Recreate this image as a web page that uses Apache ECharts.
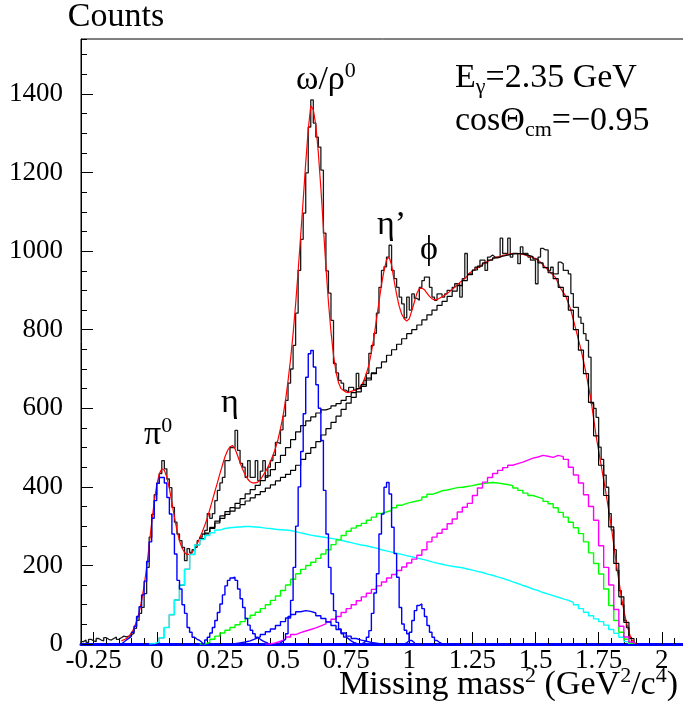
<!DOCTYPE html>
<html>
<head>
<meta charset="utf-8">
<script src="https://cdn.jsdelivr.net/npm/echarts@6/dist/echarts.min.js"></script>
<style>
  html, body { margin: 0; padding: 0; background: #fff; }
  #chart { width: 683px; height: 708px; }
</style>
</head>
<body>
<div id="chart"></div>
<script>
// ---- data (counts per bin) ----
const fineW = 0.01;
const coarseW = 0.02;

const xTickLabels = [-0.25, 0, 0.25, 0.5, 0.75, 1, 1.25, 1.5, 1.75, 2];
const yTickLabels = [0, 200, 400, 600, 800, 1000, 1200, 1400];

// measured spectrum, 0.01 bins from -0.30
const dataStart = -0.30;
const dataCounts = [
  6, 10, 4, 12, 8, 6, 14, 10, 8, 16, 12, 10, 14, 18, 12, 16, 20, 18,
  20, 24, 27, 40, 60, 78, 93, 128, 195, 272, 330, 380,
  409, 434, 467, 446, 420, 398, 348, 310, 280, 263,
  246, 212, 243, 233, 240, 246, 263, 272, 280, 289,
  332, 320, 332, 365, 391, 410, 424, 467, 467, 500,
  500, 544, 493, 460, 450, 424, 467, 424, 424, 467,
  416, 440, 467, 424, 450, 467, 480, 513, 510, 545,
  580, 620, 664, 700, 760, 842, 951, 1030, 1097, 1199,
  1316, 1385, 1326, 1290, 1265, 1206, 1046, 950, 893, 824,
  714, 690, 671, 664, 646, 641, 653, 653, 646, 689,
  653, 660, 671, 689, 740, 760, 791, 842, 908, 951,
  960, 985, 1015, 951, 930, 908, 883, 866, 830, 883,
  850, 891, 880, 875, 908, 925, 934, 934, 908, 883,
  875, 891, 891, 883, 891, 900, 900, 908, 917, 917,
  883, 930, 994, 942, 942, 951, 959, 959, 977, 977,
  951, 985, 990, 985, 985, 985, 1033, 994, 994, 1033,
  985, 994, 994, 968, 1011, 994, 994, 985, 977, 977,
  917, 985, 1007, 1003, 1003, 951, 959, 942, 942, 972,
  968, 951, 951, 942, 892, 857, 857, 832, 816, 790,
  773, 730, 612, 600, 577, 501, 470, 430, 399, 332,
  290, 240, 187, 136, 100, 60, 42, 17, 4, 0
];

// total fit curve, sampled every 0.01 from -0.14
const fitStart = -0.14;
const fitCurve = [
  8, 11, 14, 20, 28, 40, 58, 80, 110, 148, 195, 252, 310, 362,
  405, 433, 446, 442, 425, 396, 360, 323, 290, 263,
  245, 233, 228, 228, 233, 242, 255, 269, 285, 302,
  320, 342, 365, 388, 410, 433, 455, 476, 492, 502,
  505, 497, 480, 462, 445, 431, 420, 413, 410, 410,
  412, 418, 428, 438, 450, 464, 480, 498, 520, 548,
  580, 620, 670, 725, 790, 865, 950, 1040, 1130, 1225,
  1310, 1370, 1360, 1320, 1250, 1160, 1060, 960, 870, 795,
  735, 692, 665, 650, 645, 641, 640, 643, 645, 647,
  650, 658, 670, 688, 710, 742, 780, 825, 870, 915,
  950, 978, 985, 965, 925, 890, 860, 840, 828, 822,
  828, 848, 870, 892, 905, 906, 902, 893, 885, 879,
  876, 877, 880, 884, 888, 892, 897, 902, 908, 914,
  920, 925, 930, 937, 945, 949, 953, 958, 962, 966,
  970, 974, 977, 980, 983, 985, 987, 989, 990, 992,
  993, 994, 994, 994, 993, 992, 990, 988, 986, 984,
  981, 977, 972, 965, 958, 952, 945, 939, 932, 918,
  905, 895, 885, 868, 850, 825, 800, 775, 750, 720,
  690, 655, 620, 575, 530, 492, 455, 418, 380, 340,
  300, 252, 205, 162, 120, 85, 55, 30, 12, 4, 0
];

// background sum, 0.02 bins centred on 0.00 ... 1.88
const bgSumStart = -0.01;
const bgSum = [
  4, 16, 42, 75, 112, 150, 190, 228, 252, 268,
  280, 294, 308, 320, 330, 338, 346, 355, 364, 372,
  380, 388, 397, 405, 415, 424, 432, 442, 455, 470,
  485, 500, 515, 532, 548, 564, 580, 597, 613, 628,
  642, 656, 672, 688, 703, 718, 735, 749, 763, 777,
  790, 800, 812, 825, 838, 850, 862, 872, 885, 898,
  912, 925, 940, 952, 962, 970, 977, 983, 987, 990,
  993, 994, 993, 990, 986, 980, 970, 958, 945, 930,
  908, 885, 850, 800, 748, 688, 615, 530, 455, 378,
  298, 205, 120, 55, 14
];

// background sum + broad rho, 0.02 bins centred on 0.20 ... 0.86
const bgRhoStart = 0.19;
const bgSumRho = [
  282, 297, 313, 326, 337, 347, 358, 370, 382, 393,
  404, 416, 428, 444, 462, 480, 500, 520, 540, 556,
  568, 578, 588, 596, 600, 606, 612, 620, 630, 640,
  650, 660, 677, 690
];

const cyanStart = -0.03;
const bgCyan = [
  1, 5, 16, 42, 75, 112, 150, 190, 228, 252, 266,
  276, 283, 290, 294, 296, 297, 298, 299, 299, 298,
  297, 295, 294, 292, 291, 290, 289, 286, 283, 280,
  277, 275, 273, 271, 269, 267, 264, 261, 258, 255,
  252, 250, 247, 244, 240, 237, 234, 231, 228, 225,
  222, 219, 216, 213, 209, 206, 203, 200, 198, 196,
  194, 191, 188, 185, 182, 178, 175, 171, 167, 163,
  158, 154, 149, 145, 140, 136, 131, 127, 123, 119,
  115, 111, 106, 100, 90, 81, 72, 64, 57, 48,
  37, 27, 17, 6
];

const greenStart = 0.17;
const bgGreen = [
  0, 4, 12, 20, 28, 35, 42, 49, 57, 65,
  73, 81, 90, 100, 111, 122, 136, 150, 165, 179,
  190, 200, 208, 218, 229, 240, 253, 265, 276, 287,
  295, 301, 307, 315, 323, 332, 336, 340, 347, 353,
  358, 361, 364, 367, 374, 381, 385, 390, 392, 395,
  398, 399, 401, 403, 406, 408, 410, 411, 410, 408,
  406, 403, 397, 391, 384, 378, 374, 370, 363, 357,
  347, 335, 323, 310, 296, 281, 260, 232, 205, 178,
  140, 98, 60, 30, 12, 2
];

const magentaStart = 0.43;
const bgMagenta = [
  0, 3, 7, 12, 18, 24, 29, 33, 37, 41,
  46, 51, 57, 63, 70, 80, 90, 100, 110, 120,
  129, 139, 148, 158, 168, 177, 187, 196, 206, 216,
  226, 240, 260, 272, 282, 292, 306, 318, 336, 348,
  358, 378, 397, 412, 424, 434, 442, 449, 455, 459,
  463, 468, 473, 476, 480, 478, 475, 480, 477, 470,
  450, 430, 410, 380, 350, 315, 250, 195, 150, 88,
  45, 18, 5
];

// broad rho component, 0.02 bins centred on 0.30 ... 0.88
const rhoStart = 0.29;
const rhoBroad = [
  1, 3, 5, 8, 13, 18, 24, 31, 38, 47,
  57, 66, 75, 82, 85, 83, 79, 72, 65, 56,
  47, 37, 28, 20, 14, 10, 7, 4, 2, 0
];

// narrow peaks, 0.01 bins
const pi0Start = -0.14;
const pi0Peak = [
  5, 10, 15, 20, 30, 45, 70, 95, 125, 160, 210, 260, 320, 365,
  409, 424, 424, 410, 373, 331, 280, 229, 162, 140,
  100, 78, 42, 30, 17, 12, 9, 4
];
const etaStart = 0.18;
const etaPeak = [
  2, 10, 17, 28, 42, 60, 80, 102, 125, 148, 162, 168, 170,
  162, 140, 115, 93, 65, 48, 35, 26, 17, 12, 8, 5, 2
];
const omegaStart = 0.48;
const omegaPeak = [
  3, 7, 12, 26, 70, 111, 195, 300, 400, 490, 586, 679, 739, 747,
  705, 660, 600, 518, 391, 280, 195, 128, 85, 55, 38, 26, 18, 13, 8, 4, 2
];
const etaPrimeStart = 0.81;
const etaPrimePeak = [
  3, 8, 17, 34, 78, 130, 179, 280, 331, 399, 411,
  382, 297, 230, 170, 93, 51, 35, 26, 9, 4
];
const phiStart = 0.98;
const phiPeak = [3, 8, 30, 60, 85, 98, 102, 90, 70, 47, 30, 17, 9, 4, 1];

// ---- helpers ----
const serif = '"Liberation Serif", "DejaVu Serif", serif';

// histogram outline as step points (left bin edges)
function hist(start, bw, vals, closed = true) {
  const pts = [];
  if (closed) pts.push([start, 0]);
  vals.forEach((v, i) => pts.push([+(start + i * bw).toFixed(4), v]));
  const end = +(start + vals.length * bw).toFixed(4);
  pts.push([end, vals[vals.length - 1]]);
  if (closed) pts.push([end, 0]);
  return pts;
}

function curve(start, bw, vals) {
  return vals.map((v, i) => [+(start + i * bw).toFixed(4), v]);
}

function histSeries(name, pts, color, width, z) {
  return {
    name, type: 'line', step: 'end', data: pts,
    showSymbol: false, symbol: 'none', silent: true,
    lineStyle: { color, width }, z: z || 2
  };
}

const blue = '#0000ff';

const series = [
  histSeries('data', hist(dataStart, fineW, dataCounts), '#1a1a1a', 1.3, 2),
  {
    name: 'fit', type: 'line', data: curve(fitStart, fineW, fitCurve),
    showSymbol: false, symbol: 'none', silent: true,
    lineStyle: { color: '#ff0000', width: 1.2 }, z: 3
  },
  histSeries('bg+rho', hist(bgRhoStart, coarseW, bgSumRho, false), '#000', 1.2, 4),
  histSeries('bg', hist(bgSumStart, coarseW, bgSum), '#000', 1.2, 4),
  histSeries('cyan', hist(cyanStart, coarseW, bgCyan), '#00ffff', 1.4, 5),
  histSeries('green', hist(greenStart, coarseW, bgGreen), '#00ff00', 1.4, 5),
  histSeries('magenta', hist(magentaStart, coarseW, bgMagenta), '#ff00ff', 1.4, 5),
  histSeries('rho', hist(rhoStart, coarseW, rhoBroad), blue, 1.4, 6),
  histSeries('pi0', hist(pi0Start, fineW, pi0Peak), blue, 1.4, 6),
  histSeries('eta', hist(etaStart, fineW, etaPeak), blue, 1.4, 6),
  histSeries('omega', hist(omegaStart, fineW, omegaPeak), blue, 1.4, 6),
  histSeries('etaPrime', hist(etaPrimeStart, fineW, etaPrimePeak), blue, 1.4, 6),
  histSeries('phi', hist(phiStart, fineW, phiPeak), blue, 1.4, 6)
];

// rich text styles for annotations
function richFor(size) {
  return {
    n: { fontSize: size, fontFamily: serif, lineHeight: 40, color: '#000' },
    sup: { fontSize: Math.round(size * 0.66), fontFamily: serif, lineHeight: 20, verticalAlign: 'top', color: '#000' },
    sub: { fontSize: Math.round(size * 0.66), fontFamily: serif, lineHeight: 17, verticalAlign: 'bottom', color: '#000' }
  };
}

function note(x, y, text, size, align) {
  return {
    type: 'text', x, y, silent: true,
    style: {
      text, rich: richFor(size), align: align || 'left', verticalAlign: 'top',
      font: size + 'px ' + serif, fill: '#000'
    }
  };
}

const plain = v => String(v);

const chart = echarts.init(document.getElementById('chart'), null, { renderer: 'canvas' });

chart.setOption({
  animation: false,
  backgroundColor: '#fff',
  grid: {
    left: 81, top: 39, right: -4, bottom: 64,
    show: true, borderColor: '#000', borderWidth: 1,
    outerBoundsMode: 'none'
  },
  xAxis: [
    {
      type: 'value', min: -0.3, max: 2.1, position: 'bottom',
      axisLine: { show: true, onZero: false, lineStyle: { color: blue, width: 3 } },
      axisTick: { show: true, inside: true, length: 12, customValues: xTickLabels, lineStyle: { color: '#000', width: 1 } },
      axisLabel: { customValues: xTickLabels, formatter: plain, color: '#000', fontFamily: serif, fontSize: 27, margin: 3 },
      splitLine: { show: false }
    },
    {
      type: 'value', min: -0.3, max: 2.1, interval: 0.05, position: 'bottom',
      axisLine: { show: false, onZero: false },
      axisTick: { show: true, inside: true, length: 6, lineStyle: { color: '#000', width: 1 } },
      axisLabel: { show: false },
      splitLine: { show: false }
    }
  ],
  yAxis: [
    {
      type: 'value', min: 0, max: 1540, position: 'left',
      axisLine: { show: true, onZero: false, lineStyle: { color: '#000', width: 1 } },
      axisTick: { show: true, inside: true, length: 12, customValues: yTickLabels, lineStyle: { color: '#000', width: 1 } },
      axisLabel: { customValues: yTickLabels, formatter: plain, color: '#000', fontFamily: serif, fontSize: 27, margin: 18 },
      splitLine: { show: false }
    },
    {
      type: 'value', min: 0, max: 1540, interval: 50, position: 'left',
      axisLine: { show: false, onZero: false },
      axisTick: { show: true, inside: true, length: 6, lineStyle: { color: '#000', width: 1 } },
      axisLabel: { show: false },
      splitLine: { show: false }
    }
  ],
  series,
  graphic: [
    { type: 'text', x: 116, y: 17, silent: true,
      style: { text: 'Counts', font: '34px ' + serif, fill: '#000', align: 'center', verticalAlign: 'middle' } },
    note(678, 665, '{n|Missing mass}{sup|2}{n| (GeV}{sup|2}{n|/c}{sup|4}{n|)}', 34, 'right'),
    note(144, 415, '{n|π}{sup|0}', 34),
    note(221, 383, '{n|η}', 34),
    note(296, 60, '{n|ω/ρ}{sup|0}', 34),
    note(377, 205, '{n|η’}', 34),
    note(420, 230, '{n|ϕ}', 34),
    note(455, 58, '{n|E}{sub|γ}{n|=2.35 GeV}', 34),
    note(455, 101, '{n|cosΘ}{sub|cm}{n|=−0.95}', 34)
  ]
});
</script>
</body>
</html>
